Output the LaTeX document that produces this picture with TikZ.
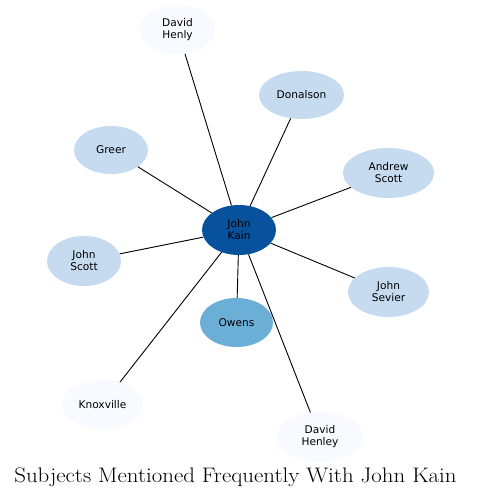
\documentclass[tikz,border=0pt]{standalone}
\usepackage{fontspec}
\setmainfont{Latin Modern Roman}
\newfontfamily\nodefont{DejaVu Sans}
\usetikzlibrary{shapes.geometric}
\definecolor{cdark}{HTML}{08519C}
\definecolor{cmid}{HTML}{6BAED6}
\definecolor{clight}{HTML}{C6DBEF}
\definecolor{cvlight}{HTML}{F7FBFF}
\tikzset{
  ent/.style={ellipse, inner sep=0pt, align=center, text=black,
    font=\nodefont\fontsize{10.6bp}{12bp}\selectfont},
  edge/.style={draw=black, line width=0.9bp},
}
\begin{document}
\begin{tikzpicture}[x=1bp,y=-1bp]
\useasboundingbox (0,0) rectangle (481,497);
\fill[white] (0,0) rectangle (481,497);
\node[ent, fill=cdark, minimum width=74bp, minimum height=50bp] (kain) at (239,230) {John\\Kain};
\node[ent, fill=cvlight, minimum width=75bp, minimum height=49bp] (henly) at (177.5,29.5) {David\\Henly};
\node[ent, fill=clight, minimum width=85bp, minimum height=48bp] (donalson) at (301.5,95) {Donalson};
\node[ent, fill=clight, minimum width=74bp, minimum height=48bp] (greer) at (111,150) {Greer};
\node[ent, fill=clight, minimum width=91bp, minimum height=50bp] (ascott) at (388.5,173) {Andrew\\Scott};
\node[ent, fill=clight, minimum width=74bp, minimum height=50bp] (jscott) at (84,261) {John\\Scott};
\node[ent, fill=clight, minimum width=81bp, minimum height=50bp] (sevier) at (388.5,292) {John\\Sevier};
\node[ent, fill=cmid, minimum width=73bp, minimum height=49bp] (owens) at (236.5,322.5) {Owens};
\node[ent, fill=cvlight, minimum width=81bp, minimum height=49bp] (knox) at (102.5,404.5) {Knoxville};
\node[ent, fill=cvlight, minimum width=86bp, minimum height=50bp] (henley) at (320,437) {David\\Henley};
\foreach \t in {henly,donalson,greer,ascott,jscott,sevier,owens,knox,henley}
  \draw[edge] (kain) -- (\t);
\node[anchor=base, inner sep=0pt, font=\fontsize{21bp}{24bp}\selectfont] (title) at (235.5,482) {\scalebox{1.09}[1]{Subjects Mentioned Frequently With John Kain}};
\end{tikzpicture}
\end{document}
